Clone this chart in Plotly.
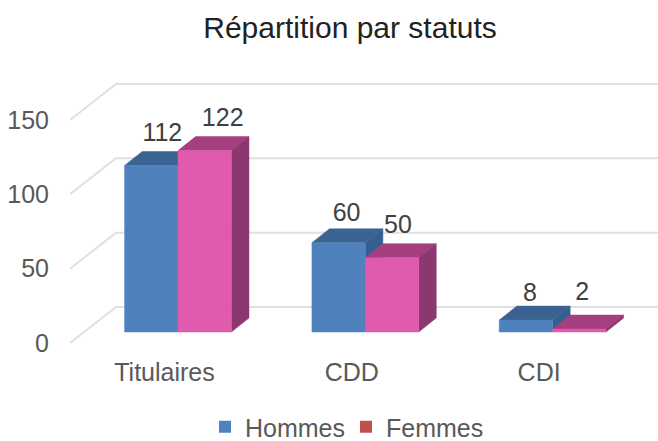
import plotly.graph_objects as go

categories = ["Titulaires", "CDD", "CDI"]
hommes = [112, 60, 8]
femmes = [122, 50, 2]
y_ticks = [0, 50, 100, 150]

# pixel scale of the plot frame
L, R, T, B = 70, 658, 70, 345
X0_PX, X_STEP = 178, 187.3
Y0_PX, Y_STEP = 332, 1.487
XR = [(L - X0_PX) / X_STEP, (R - X0_PX) / X_STEP]
YR = [(Y0_PX - B) / Y_STEP, (Y0_PX - T) / Y_STEP]

BAR_W = 0.285
DX = 17.6 / X_STEP
DY = 14 / Y_STEP
WALL_FRONT = -7.4
WALL_BACK = 16.8
WALL_X = (116 - X0_PX) / X_STEP

# label nudges: horizontal (px from front-bar centre), vertical (px above back top edge)
h_nudge = [([11, 8, 4][i], [17, 14, 11][i]) for i in range(3)]
f_nudge = [([18, 6, 3][i], [17, 17, 21][i]) for i in range(3)]

GREY = "#595959"
FONT = "Liberation Sans, Arial, sans-serif"
FS = 25

fig = go.Figure()

# wall / floor grid lines
gx, gy = [], []
for t in y_ticks:
    gx += [XR[0], WALL_X, XR[1], None]
    gy += [t + WALL_FRONT, t + WALL_BACK, t + WALL_BACK, None]
fig.add_trace(go.Scatter(x=gx, y=gy, mode="lines", line=dict(color="#e0e0e0", width=2),
                         showlegend=False, hoverinfo="skip"))


def poly(xs, ys, color, name):
    fig.add_trace(go.Scatter(x=xs + xs[:1], y=ys + ys[:1], mode="lines", fill="toself",
                             fillcolor=color, line=dict(color=color, width=0.5),
                             showlegend=False, name=name, hoverinfo="name"))


def series(values, side, front_c, top_c, side_c, name):
    for i, v in enumerate(values):
        x0 = i if side > 0 else i - BAR_W
        x1 = x0 + BAR_W
        poly([x0, x1, x1 + DX, x0 + DX], [v, v, v + DY, v + DY], top_c, name)
        poly([x1, x1 + DX, x1 + DX, x1], [0, DY, v + DY, v], side_c, name)
        poly([x0, x1, x1, x0], [0, 0, v, v], front_c, name)


series(hommes, -1, "#4f81bd", "#3b6392", "#34608f", "Hommes")
series(femmes, 1, "#e05aad", "#a63f80", "#8c3870", "Femmes")


def labels(values, side, nudge):
    xs, ys = [], []
    for i, v in enumerate(values):
        c = i - BAR_W / 2 if side < 0 else i + BAR_W / 2
        xs.append(c + nudge[i][0] / X_STEP)
        ys.append(v + DY + nudge[i][1] / Y_STEP)
    fig.add_trace(go.Scatter(x=xs, y=ys, mode="text", text=[str(v) for v in values],
                             textposition="middle center",
                             textfont=dict(size=FS, color="#404040", family=FONT),
                             showlegend=False, hoverinfo="skip"))


labels(hommes, -1, h_nudge)
labels(femmes, 1, f_nudge)

# legend keys
for nm, col in [("Hommes", "#4f81bd"), ("Femmes", "#c0504d")]:
    fig.add_trace(go.Scatter(x=[None], y=[None], mode="markers", name=nm,
                             marker=dict(symbol="square", size=12, color=col)))

fig.update_layout(
    width=658, height=441,
    autosize=False,
    margin=dict(l=L, r=658 - R, t=T, b=441 - B, pad=0),
    paper_bgcolor="white", plot_bgcolor="white",
    font=dict(family=FONT, size=FS, color=GREY),
    title=dict(text="Répartition par statuts", x=350 / 658, xanchor="center",
               y=1 - 27 / 441, yanchor="middle",
               font=dict(size=30, color="#222222", family=FONT)),
    xaxis=dict(range=XR, tickmode="array", tickvals=[i - 0.072 for i in range(3)],
               ticktext=categories, showgrid=False, zeroline=False, showline=False,
               ticks="", ticklabelstandoff=10, tickfont=dict(size=FS, color=GREY)),
    yaxis=dict(range=YR, tickmode="array", tickvals=[t + WALL_FRONT for t in y_ticks],
               ticktext=[str(t) for t in y_ticks], showgrid=False, zeroline=False,
               showline=False, ticks="", ticklabelstandoff=20,
               tickfont=dict(size=FS, color=GREY)),
    legend=dict(orientation="h", x=(205 - L) / (R - L), xanchor="left",
                yref="container", y=14 / 441, yanchor="middle", bgcolor="rgba(0,0,0,0)",
                entrywidth=96, entrywidthmode="pixels",
                font=dict(size=FS, color=GREY), itemclick=False, itemdoubleclick=False),
)

fig.write_html("out.html", config={"displayModeBar": False},
               post_script="document.body.style.margin='0';")
